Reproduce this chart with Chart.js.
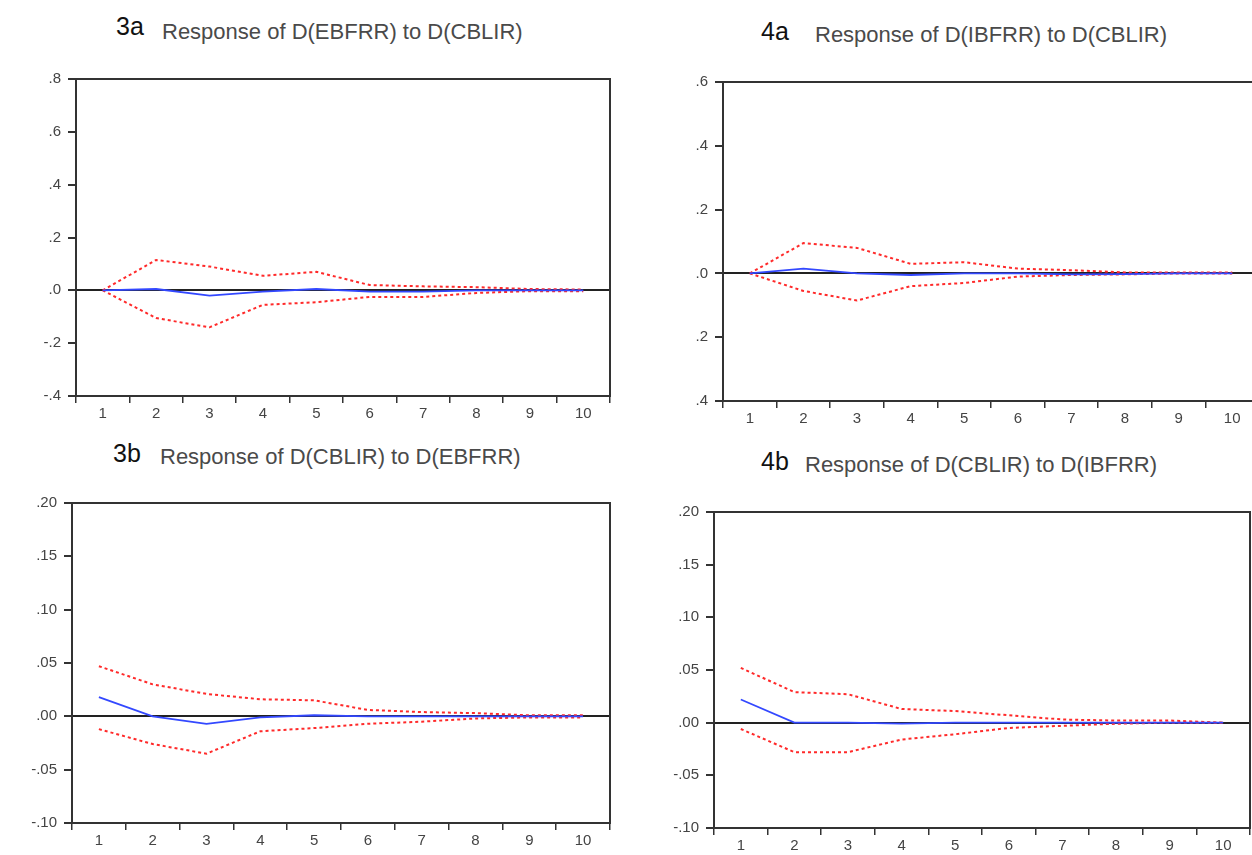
<!DOCTYPE html>
<html><head><meta charset="utf-8">
<script src="https://cdn.jsdelivr.net/npm/chart.js@4.4.1/dist/chart.umd.min.js"></script>
<style>
html,body{margin:0;padding:0;background:#fff;width:1252px;height:855px;overflow:hidden;position:relative;}
canvas{position:absolute;}
.num{position:absolute;font-family:"Liberation Sans Narrow","Liberation Sans",Arial,sans-serif;color:#111;font-size:25px;line-height:25px;white-space:nowrap;}
.ttl{position:absolute;font-family:"Liberation Sans",Arial,sans-serif;color:#4a4a4a;font-size:22px;line-height:22px;white-space:nowrap;}
</style></head><body>
<div class="num" style="left:116px;top:14px">3a</div>
<div class="ttl" style="left:162px;top:21px">Response of D(EBFRR) to D(CBLIR)</div>
<div class="num" style="left:761px;top:19px">4a</div>
<div class="ttl" style="left:815px;top:24px">Response of D(IBFRR) to D(CBLIR)</div>
<div class="num" style="left:113px;top:441px">3b</div>
<div class="ttl" style="left:160px;top:446px">Response of D(CBLIR) to D(EBFRR)</div>
<div class="num" style="left:761px;top:449px">4b</div>
<div class="ttl" style="left:805px;top:454px">Response of D(CBLIR) to D(IBFRR)</div>

<canvas id="c3a"></canvas>
<canvas id="c4a"></canvas>
<canvas id="c3b"></canvas>
<canvas id="c4b"></canvas>
<script>
// ---- data ----
const horizons = ['1','2','3','4','5','6','7','8','9','10'];

const resp3a  = [0, 0.005, -0.02, -0.005, 0.005, -0.005, -0.005, 0, 0, 0];
const upper3a = [0, 0.115, 0.09, 0.055, 0.07, 0.02, 0.015, 0.012, 0.005, 0.003];
const lower3a = [0, -0.105, -0.14, -0.055, -0.045, -0.025, -0.025, -0.01, -0.003, -0.003];
const yVals3a = [0.8, 0.6, 0.4, 0.2, 0, -0.2, -0.4];
const yLabels3a = ['.8', '.6', '.4', '.2', '.0', '-.2', '-.4'];

const resp4a  = [0, 0.015, 0, -0.005, 0, 0, -0.003, -0.002, 0, 0];
const upper4a = [0, 0.095, 0.08, 0.03, 0.035, 0.015, 0.01, 0.003, 0.003, 0.003];
const lower4a = [0, -0.055, -0.085, -0.04, -0.03, -0.01, -0.005, -0.003, 0, 0];
const yVals4a = [0.6, 0.4, 0.2, 0, -0.2, -0.4];
const yLabels4a = ['.6', '.4', '.2', '.0', '.2', '.4'];

const resp3b  = [0.018, 0, -0.007, -0.001, 0.001, 0, 0, 0, 0, 0];
const upper3b = [0.047, 0.03, 0.021, 0.016, 0.015, 0.006, 0.004, 0.003, 0.001, 0.001];
const lower3b = [-0.012, -0.026, -0.035, -0.014, -0.011, -0.007, -0.005, -0.002, -0.001, -0.001];
const yVals3b = [0.20, 0.15, 0.10, 0.05, 0, -0.05, -0.10];
const yLabels3b = ['.20', '.15', '.10', '.05', '.00', '-.05', '-.10'];

const resp4b  = [0.022, 0, 0, -0.001, 0, 0, 0, 0, 0, 0];
const upper4b = [0.052, 0.029, 0.027, 0.013, 0.011, 0.007, 0.003, 0.002, 0.002, 0];
const lower4b = [-0.006, -0.028, -0.028, -0.016, -0.011, -0.005, -0.003, -0.001, 0, 0];
const yVals4b = [0.20, 0.15, 0.10, 0.05, 0, -0.05, -0.10];
const yLabels4b = ['.20', '.15', '.10', '.05', '.00', '-.05', '-.10'];

// ---- drawing ----
const framePlugin = {
  id: 'frame',
  afterDraw(chart) {
    const a = chart.chartArea, ctx = chart.ctx;
    ctx.save();
    ctx.strokeStyle = '#333';
    ctx.lineWidth = 2;
    ctx.strokeRect(a.left, a.top, a.right - a.left, a.bottom - a.top);
    ctx.restore();
  }
};

const Y_AXIS_W = 60, X_AXIS_H = 30, PAD_T = 10, PAD_R = 10;

function panel(id, plotLeft, plotTop, plotRight, plotBottom, resp, upper, lower, yVals, yLabels) {
  const cv = document.getElementById(id);
  const w = Math.round(plotRight - plotLeft + Y_AXIS_W + PAD_R);
  const h = Math.round(plotBottom - plotTop + PAD_T + X_AXIS_H);
  cv.width = w; cv.height = h;
  cv.style.width = w + 'px'; cv.style.height = h + 'px';
  cv.style.left = (plotLeft - Y_AXIS_W) + 'px';
  cv.style.top = (plotTop - PAD_T) + 'px';
  const red = '#ff2a2a', blue = '#3348ff';
  new Chart(cv, {
    type: 'line',
    data: {
      labels: horizons,
      datasets: [
        { data: resp, borderColor: blue, borderWidth: 1.8, pointRadius: 0, tension: 0, fill: false },
        { data: upper, borderColor: red, borderWidth: 2, borderDash: [3, 3], pointRadius: 0, tension: 0, fill: false },
        { data: lower, borderColor: red, borderWidth: 2, borderDash: [3, 3], pointRadius: 0, tension: 0, fill: false }
      ]
    },
    options: {
      responsive: false,
      animation: false,
      devicePixelRatio: 1,
      layout: { padding: { left: 0, top: PAD_T, right: PAD_R, bottom: 0 } },
      plugins: { legend: { display: false }, tooltip: { enabled: false }, title: { display: false } },
      scales: {
        x: {
          type: 'category',
          offset: true,
          grid: { offset: true, drawOnChartArea: false, tickLength: 7, tickColor: '#333', lineWidth: 1.5 },
          border: { display: false },
          ticks: { color: '#444', font: { family: 'Liberation Sans', size: 15 }, padding: 2, maxRotation: 0, autoSkip: false },
          afterFit: s => { s.height = X_AXIS_H; }
        },
        y: {
          min: yVals[yVals.length - 1],
          max: yVals[0],
          afterBuildTicks: s => { s.ticks = yVals.map(v => ({ value: v })); },
          grid: {
            color: c => (c.tick && c.tick.value === 0) ? '#222' : 'rgba(0,0,0,0)',
            lineWidth: 2,
            tickColor: '#333',
            tickLength: 8
          },
          border: { display: false },
          ticks: {
            color: '#444',
            font: { family: 'Liberation Sans', size: 15 },
            padding: 7,
            callback: v => { const i = yVals.findIndex(t => Math.abs(t - v) < 1e-9); return i >= 0 ? yLabels[i] : ''; }
          },
          afterFit: s => { s.width = Y_AXIS_W; }
        }
      }
    },
    plugins: [framePlugin]
  });
}

panel('c3a', 76, 72.7, 610, 395.7, resp3a, upper3a, lower3a, yVals3a, yLabels3a);
panel('c4a', 723, 75.7, 1259, 400.7, resp4a, upper4a, lower4a, yVals4a, yLabels4a);
panel('c3b', 72, 496.7, 610, 822.7, resp3b, upper3b, lower3b, yVals3b, yLabels3b);
panel('c4b', 714, 505.7, 1250, 828, resp4b, upper4b, lower4b, yVals4b, yLabels4b);
</script>
</body></html>
